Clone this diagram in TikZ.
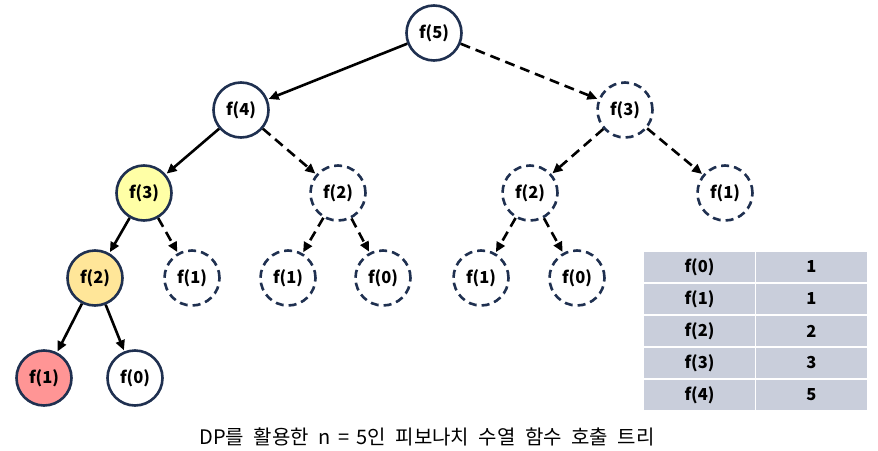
\documentclass[tikz,border=0pt]{standalone}
\usepackage{fontspec}
\setmainfont{Noto Sans CJK KR}
\usetikzlibrary{arrows.meta}
\definecolor{navy}{HTML}{1F3050}
\definecolor{yel}{HTML}{FFFFA6}
\definecolor{org}{HTML}{FFE699}
\definecolor{redd}{HTML}{FF9595}
\definecolor{tbl}{HTML}{C9CEDB}
\begin{document}
\begin{tikzpicture}[x=1pt,y=-1pt,
  fnode/.style={circle,draw=navy,line width=2.6pt,minimum size=55pt,inner sep=0pt,font=\fontsize{16.5}{18}\selectfont\bfseries,fill=white},
  dnode/.style={fnode,dash pattern=on 8pt off 5pt},
  call/.style={line width=2.6pt,-{Triangle[length=10pt,width=9pt]},shorten >=1pt},
  dcall/.style={call,dash pattern=on 10pt off 6pt},
  cell/.style={minimum width=112pt,minimum height=32pt,inner sep=0pt,fill=tbl,draw=white,line width=1.2pt,font=\fontsize{16.5}{18}\selectfont\bfseries}]
\useasboundingbox (0,0) rectangle (878,450);
\node[fnode] (n5) at (434,33) {f(5)};
\node[fnode] (n4) at (241,110) {f(4)};
\node[dnode] (r3) at (625,110) {f(3)};
\node[fnode,fill=yel] (l3) at (144,193) {f(3)};
\node[dnode] (m2) at (338,193) {f(2)};
\node[dnode] (r2) at (530,193) {f(2)};
\node[dnode] (r1) at (725,193) {f(1)};
\node[fnode,fill=org] (l2) at (95,278) {f(2)};
\node[dnode] (l31) at (192,278) {f(1)};
\node[dnode] (m21) at (288,278) {f(1)};
\node[dnode] (m20) at (383,278) {f(0)};
\node[dnode] (r21) at (481,278) {f(1)};
\node[dnode] (r20) at (577,278) {f(0)};
\node[fnode,fill=redd] (l21) at (44,378) {f(1)};
\node[fnode] (l20) at (135,378) {f(0)};
\draw[call] (n5) -- (n4);
\draw[dcall] (n5) -- (r3);
\draw[call] (n4) -- (l3);
\draw[dcall] (n4) -- (m2);
\draw[dcall] (r3) -- (r2);
\draw[dcall] (r3) -- (r1);
\draw[call] (l3) -- (l2);
\draw[dcall] (l3) -- (l31);
\draw[dcall] (m2) -- (m21);
\draw[dcall] (m2) -- (m20);
\draw[dcall] (r2) -- (r21);
\draw[dcall] (r2) -- (r20);
\draw[call] (l2) -- (l21);
\draw[call] (l2) -- (l20);
\foreach \i/\v in {0/1,1/1,2/2,3/3,4/5}{
  \node[cell] (k\i) at (699.5,{267+32*\i}) {f(\i)};
  \node[cell] (v\i) at (811.5,{267+32*\i}) {\v};
}
\node[font=\fontsize{20}{22}\selectfont] (cap) at (427,437) {DP를\hspace{5pt} 활용한\hspace{5pt} n\hspace{3pt} =\hspace{3pt} 5인\hspace{5pt} 피보나치\hspace{5pt} 수열\hspace{5pt} 함수\hspace{5pt} 호출\hspace{5pt} 트리};
\end{tikzpicture}
\end{document}
